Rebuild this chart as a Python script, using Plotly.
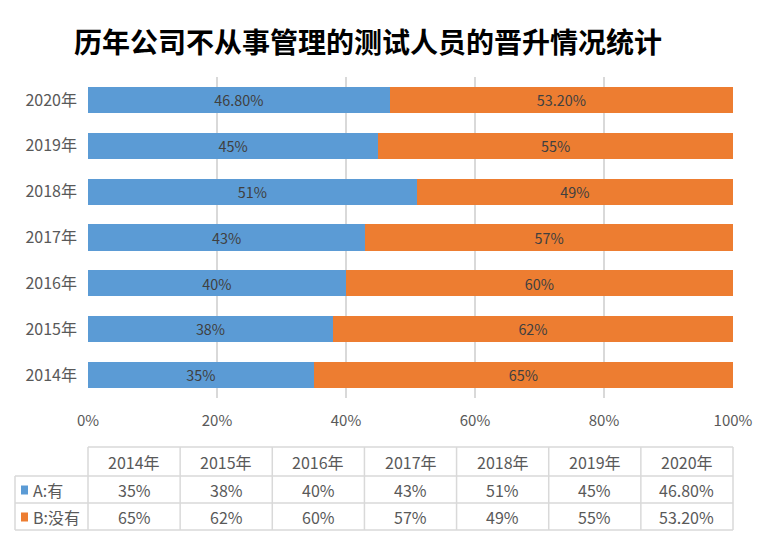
import plotly.graph_objects as go

# chart data
years = ["2014年", "2015年", "2016年", "2017年", "2018年", "2019年", "2020年"]
a_values = [35, 38, 40, 43, 51, 45, 46.8]
b_values = [65, 62, 60, 57, 49, 55, 53.2]
a_labels = ["35%", "38%", "40%", "43%", "51%", "45%", "46.80%"]
b_labels = ["65%", "62%", "60%", "57%", "49%", "55%", "53.20%"]
series_names = ["A:有", "B:没有"]
x_ticks = [0, 20, 40, 60, 80, 100]
x_tick_text = ["0%", "20%", "40%", "60%", "80%", "100%"]

BLUE = "#5B9BD5"
ORANGE = "#ED7D31"
GRID = "#D9D9D9"
TEXT = "#595959"
FONT = "Noto Sans CJK SC, Noto Sans, sans-serif"

# figure geometry (screen pixels); the page body adds an 8px offset
W, H = 763, 540
OFF = 8
L, R, T, B = 88 - OFF, 733 - OFF, 77 - OFF, 398 - OFF


def px_x(p):
    # screen pixel x -> paper x
    return (p - OFF - L) / (R - L)


def px_y(p):
    # screen pixel y -> paper y
    return (B - (p - OFF)) / (B - T)


fig = go.Figure()

for vals, labels, name, color in [
    (a_values, a_labels, series_names[0], BLUE),
    (b_values, b_labels, series_names[1], ORANGE),
]:
    fig.add_trace(
        go.Bar(
            y=years,
            x=vals,
            orientation="h",
            name=name,
            marker=dict(color=color, line=dict(width=0)),
            text=labels,
            textposition="inside",
            insidetextanchor="middle",
            textfont=dict(color="#404040", size=15, family=FONT),
            hoverinfo="skip",
        )
    )

# data table under the chart
n = len(years)
row_lines = [447, 476, 503, 530]
header_mid = (row_lines[0] + row_lines[1]) / 2
row_mids = [(row_lines[1] + row_lines[2]) / 2, (row_lines[2] + row_lines[3]) / 2]
line_style = dict(color=GRID, width=1.5)
table_font = dict(size=16, color=TEXT, family=FONT)
shapes = []
annotations = []

# horizontal lines
shapes.append(dict(type="line", xref="paper", yref="paper", x0=0, x1=1,
                   y0=px_y(row_lines[0]), y1=px_y(row_lines[0]), line=line_style))
for yl in row_lines[1:]:
    shapes.append(dict(type="line", xref="paper", yref="paper", x0=px_x(15), x1=1,
                       y0=px_y(yl), y1=px_y(yl), line=line_style))
# vertical lines
shapes.append(dict(type="line", xref="paper", yref="paper", x0=px_x(15), x1=px_x(15),
                   y0=px_y(row_lines[1]), y1=px_y(row_lines[3]), line=line_style))
for k in range(n + 1):
    shapes.append(dict(type="line", xref="paper", yref="paper", x0=k / n, x1=k / n,
                       y0=px_y(row_lines[0]), y1=px_y(row_lines[3]), line=line_style))

# legend keys
for color, ym, name in zip([BLUE, ORANGE], row_mids, series_names):
    shapes.append(dict(type="rect", xref="paper", yref="paper",
                       x0=px_x(21), x1=px_x(28), y0=px_y(ym - 4), y1=px_y(ym + 5),
                       fillcolor=color, line=dict(width=0)))
    annotations.append(dict(x=px_x(31), y=px_y(ym), xref="paper", yref="paper",
                            text=name, showarrow=False, xanchor="left", yanchor="middle",
                            font=table_font))

# header and values
for k in range(n):
    xc = (k + 0.5) / n
    annotations.append(dict(x=xc, y=px_y(header_mid), xref="paper", yref="paper",
                            text=years[k], showarrow=False,
                            xanchor="center", yanchor="middle", font=table_font))
    for ym, labels in zip(row_mids, [a_labels, b_labels]):
        annotations.append(dict(x=xc, y=px_y(ym), xref="paper", yref="paper",
                                text=labels[k], showarrow=False,
                                xanchor="center", yanchor="middle", font=table_font))

fig.update_layout(
    width=W,
    height=H,
    barmode="stack",
    bargap=0.43,
    showlegend=False,
    plot_bgcolor="white",
    paper_bgcolor="white",
    margin=dict(l=L, r=W - R, t=T, b=H - B, pad=0, autoexpand=False),
    title=dict(
        text="<b>历年公司不从事管理的测试人员的晋升情况统计</b>",
        x=(368 - OFF) / W,
        xanchor="center",
        y=1 - (43 - OFF) / H,
        yanchor="middle",
        font=dict(size=28, color="#000000", family=FONT),
    ),
    xaxis=dict(
        range=[0, 100],
        tickvals=x_ticks,
        ticktext=x_tick_text,
        showgrid=True,
        gridcolor=GRID,
        gridwidth=1.5,
        zeroline=False,
        ticklabelstandoff=12,
        tickfont=dict(size=15, color=TEXT, family=FONT),
        fixedrange=True,
    ),
    yaxis=dict(
        showgrid=False,
        zeroline=False,
        showline=False,
        ticklabelstandoff=10,
        tickfont=dict(size=16, color=TEXT, family=FONT),
        fixedrange=True,
    ),
    shapes=shapes,
    annotations=annotations,
)

fig.write_html("out.html")
